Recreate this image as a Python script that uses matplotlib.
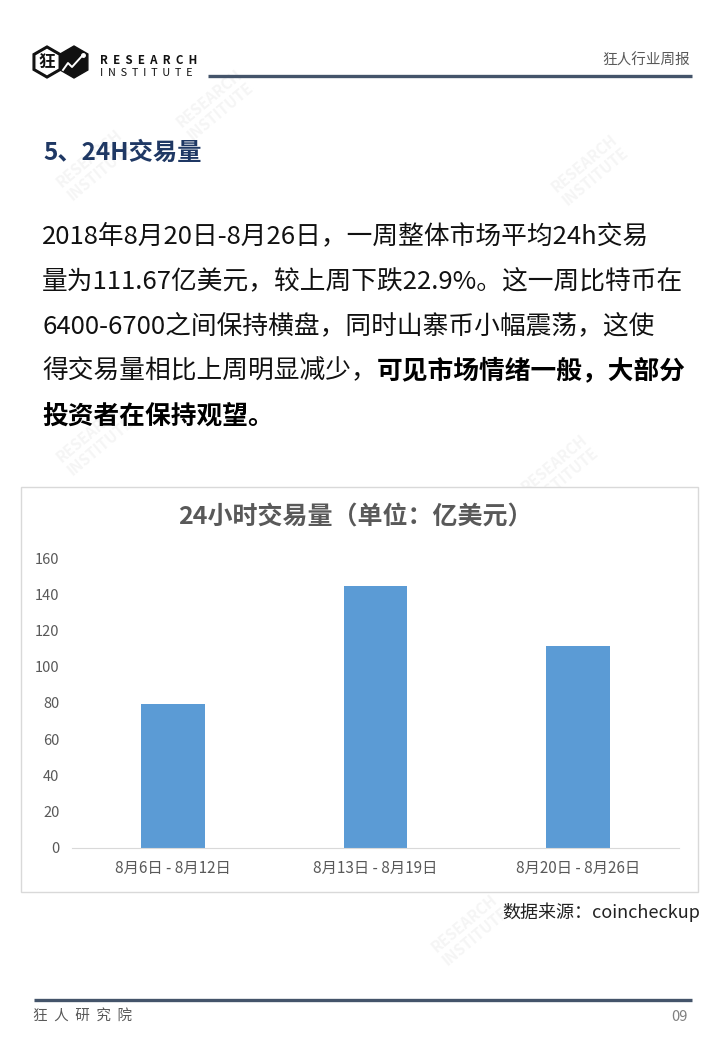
import matplotlib
matplotlib.use('Agg')
import matplotlib.pyplot as plt
from matplotlib.patches import RegularPolygon, Rectangle

plt.rcParams['font.family'] = ['Noto Sans CJK SC', 'DejaVu Sans']

# data
weeks = ['8月6日 - 8月12日', '8月13日 - 8月19日', '8月20日 - 8月26日']
volume = [79.2, 144.8, 111.67]
yticks = [0, 20, 40, 60, 80, 100, 120, 140, 160]

chart_title = '24小时交易量（单位：亿美元）'
heading = '5、24H交易量'
body_lines = [
    '2018年8月20日-8月26日，一周整体市场平均24h交易',
    '量为111.67亿美元，较上周下跌22.9%。这一周比特币在',
    '6400-6700之间保持横盘，同时山寨币小幅震荡，这使',
]
line4_plain = '得交易量相比上周明显减少，'
line4_bold = '可见市场情绪一般，大部分'
line5_bold = '投资者在保持观望。'
source = '数据来源：coincheckup'

W, H = 720, 1040
fig = plt.figure(figsize=(W / 100, H / 100), dpi=100)
fig.patch.set_facecolor('white')

# background layer in pixel coords
bg = fig.add_axes([0, 0, 1, 1])
bg.set_xlim(0, W)
bg.set_ylim(H, 0)
bg.axis('off')

# faint watermarks
for (wx, wy) in [(215, 105), (590, 170), (95, 165), (560, 470), (95, 440), (470, 930), (230, 690)]:
    bg.text(wx, wy, 'RESEARCH\nINSTITUTE', rotation=40, color='#f5f5f5', fontsize=11,
            fontweight='bold', ha='center', va='center', linespacing=1.1, zorder=0)

# logo
bg.add_patch(RegularPolygon((47, 62), 6, radius=16, color='#111111', zorder=2))
bg.add_patch(RegularPolygon((47, 62), 6, radius=12.5, color='white', zorder=2))
bg.text(47, 63, '狂', fontsize=12, fontweight='bold', color='#111111', ha='center', va='center', zorder=3)
bg.add_patch(RegularPolygon((74, 62), 6, radius=16, color='#111111', zorder=2))
bg.plot([63, 68, 72, 82], [70, 63, 67, 56], color='white', lw=1.4, zorder=3)
bg.plot([83], [55], marker='o', ms=2.5, color='white', zorder=3)
bg.text(100, 60, 'R  E  S  E  A  R  C  H', fontsize=8.3, fontweight='bold', color='#111111', va='center', ha='left')
bg.text(100, 73, 'I  N  S  T  I  T  U  T  E', fontsize=7.8, color='#111111', va='center', ha='left')

# header / footer
bg.plot([208, 692], [76, 76], color='#44546a', lw=2.4, solid_capstyle='butt')
bg.text(690, 61, '狂人行业周报', fontsize=10.5, color='#595959', ha='right', va='center')
bg.plot([34, 692], [1000, 1000], color='#44546a', lw=2.4, solid_capstyle='butt')
bg.text(33, 1017, '狂  人  研  究  院', fontsize=10.5, color='#595959', ha='left', va='center')
bg.text(688, 1017, '09', fontsize=10.5, color='#7f7f7f', ha='right', va='center')

# heading and body text
bg.text(43, 153, heading, fontsize=17.5, fontweight='bold', color='#1f3864', ha='left', va='center')
ys = [236, 281, 326, 371, 416]
for y, s in zip(ys, body_lines):
    bg.text(42, y, s, fontsize=18.5, color='#111111', ha='left', va='center')
t4 = bg.text(42, ys[3], line4_plain, fontsize=18.5, color='#111111', ha='left', va='center')
fig.canvas.draw()
bb = t4.get_window_extent(renderer=fig.canvas.get_renderer())
bg.text(bb.x1, ys[3], line4_bold, fontsize=18.5, fontweight='bold', color='#000000', ha='left', va='center')
bg.text(42, ys[4], line5_bold, fontsize=18.5, fontweight='bold', color='#000000', ha='left', va='center')

# chart frame
bg.add_patch(Rectangle((21, 487), 677, 405, fill=True, facecolor='white', edgecolor='#d9d9d9', lw=1, zorder=1))
bg.text(355, 517, chart_title, fontsize=18, fontweight='bold', color='#595959', ha='center', va='center', zorder=2)
bg.text(700, 912, source, fontsize=13, color='#222222', ha='right', va='center')

# chart axes
x0, x1 = 72, 679
y0, y1 = 847.7, 558
ax = fig.add_axes([x0 / W, 1 - y0 / H, (x1 - x0) / W, (y0 - y1) / H])
ax.patch.set_alpha(0)
ax.bar(range(len(weeks)), volume, width=0.315, color='#5b9bd5', zorder=2)
ax.set_xlim(-0.5, len(weeks) - 0.5)
ax.set_ylim(0, 160)
ax.set_yticks(yticks)
ax.set_xticks(range(len(weeks)))
ax.set_xticklabels(weeks)
for s in ['top', 'right', 'left']:
    ax.spines[s].set_visible(False)
ax.spines['bottom'].set_color('#d9d9d9')
ax.tick_params(axis='both', length=0, colors='#595959', labelsize=11)
ax.tick_params(axis='y', pad=9, labelsize=10.5)
ax.tick_params(axis='x', pad=9)

fig.savefig('out.png', dpi=100, facecolor='white')
